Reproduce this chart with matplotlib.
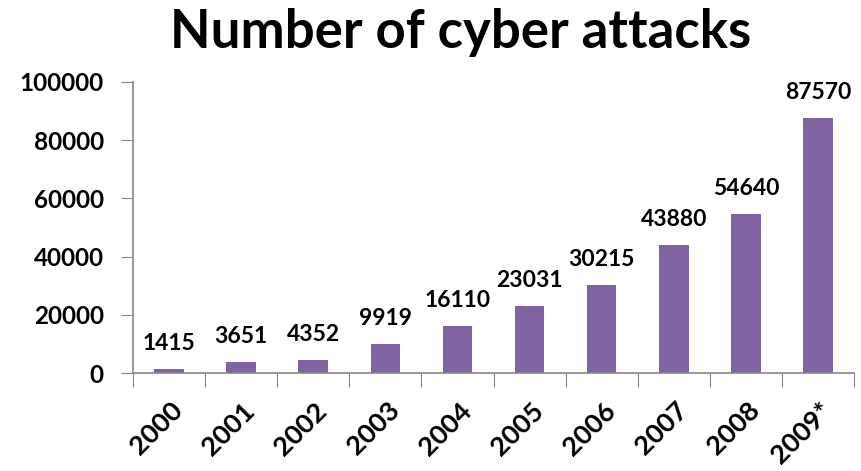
import matplotlib.pyplot as plt
import numpy as np

years = ["2000", "2001", "2002", "2003", "2004", "2005", "2006", "2007", "2008", "2009*"]
attacks = [1415, 3651, 4352, 9919, 16110, 23031, 30215, 43880, 54640, 87570]

plt.rcParams['font.family'] = ['Lato', 'DejaVu Sans']
plt.rcParams['font.weight'] = 'bold'

fig = plt.figure(figsize=(8.61, 4.71), dpi=100)
ax = fig.add_axes([0.1545, 0.208, 0.8374, 0.618])

x = np.arange(len(years))
bars = ax.bar(x, attacks, width=0.41, color='#8064A2')

for xi, v in zip(x, attacks):
    ax.annotate(str(v), (xi, v), xytext=(0, 11), textcoords='offset points',
                ha='center', va='bottom', fontsize=16.5, fontweight='bold')

ax.set_xlim(-0.5, len(years) - 0.5)
ax.set_ylim(0, 100000)
ax.set_yticks(range(0, 100001, 20000))
ax.tick_params(axis='y', labelsize=17.5, length=9, color='#868686', pad=12)

# category ticks sit between bars, labels go under the bar centres
ax.set_xticks(np.arange(len(years) + 1) - 0.5)
ax.set_xticklabels([])
ax.set_xticks(x + 0.02, minor=True)
ax.set_xticklabels(years, minor=True, rotation=45, ha='right', rotation_mode='anchor',
                   fontsize=19.5, fontweight='bold')
ax.tick_params(axis='x', which='major', length=10, color='#868686', direction='out')
ax.tick_params(axis='x', which='minor', length=0, pad=18)

for s in ['top', 'right']:
    ax.spines[s].set_visible(False)
for s in ['left', 'bottom']:
    ax.spines[s].set_color('#868686')
    ax.spines[s].set_linewidth(1.2)

fig.text(0.535, 0.982, "Number of cyber attacks", ha='center', va='top',
         fontsize=38, fontweight='bold')

fig.savefig("out.png", dpi=100)
